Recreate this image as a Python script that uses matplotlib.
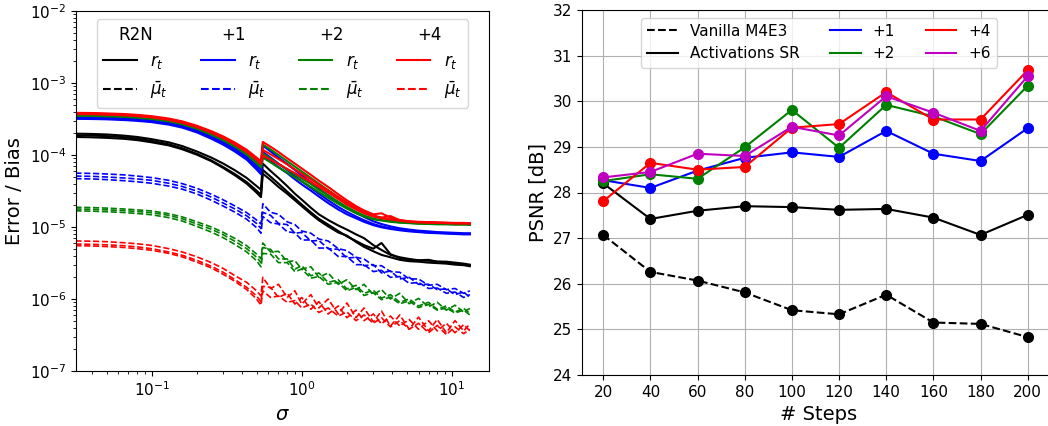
import numpy as np
import matplotlib.pyplot as plt
from matplotlib.lines import Line2D

# ---- left panel: error / bias vs sigma (values in units of 1e-6) ----
sigma = [0.031, 0.04, 0.05, 0.065, 0.08, 0.1, 0.13, 0.16, 0.2, 0.25,
         0.3, 0.36, 0.43, 0.5, 0.535, 0.55, 0.62, 0.7, 0.8, 0.9,
         1.0, 1.15, 1.3, 1.5, 1.75, 2.0, 2.3, 2.6, 3.0, 3.4,
         3.9, 4.5, 5.2, 6.0, 7.0, 8.0, 9.2, 10.5, 12.0, 13.2]
unit = 1e-6

r_base = [
    [198, 196, 193, 186, 178, 166, 150, 133, 112, 92, 76, 61, 48, 37, 33,
     76, 60, 48, 37, 29, 24, 18.5, 15, 12.5, 10.5, 9.2, 7.9, 7.0, 5.6, 4.8,
     4.1, 3.8, 3.6, 3.45, 3.4, 3.3, 3.3, 3.2, 3.1, 3.0],
    [188, 186, 183, 177, 169, 157, 141, 124, 104, 84, 68, 54, 42, 32, 28,
     62, 50, 40, 31, 25, 20.5, 16, 13, 10.8, 8.8, 7.4, 6.4, 5.6, 5.0, 6.0,
     4.2, 3.7, 3.5, 3.45, 3.5, 3.3, 3.25, 3.1, 3.0, 2.9],
    [178, 176, 173, 168, 161, 150, 136, 120, 101, 82, 66, 52, 40, 30, 26,
     55, 45, 36, 29, 23.5, 19.5, 15.2, 12.4, 10.2, 8.4, 7.6, 6.2, 5.3, 4.6, 4.1,
     3.8, 3.5, 3.35, 3.3, 3.2, 3.15, 3.1, 3.0, 2.95, 2.85],
]
r_p1 = [
    [335, 333, 330, 323, 315, 303, 281, 256, 222, 183, 152, 123, 96, 72, 63,
     135, 112, 92, 75, 62, 52, 42, 34, 27.5, 22, 18.5, 15.8, 13.8, 12, 11,
     10.2, 9.6, 9.2, 8.9, 8.7, 8.5, 8.4, 8.3, 8.2, 8.2],
    [325, 323, 320, 313, 305, 293, 271, 246, 212, 174, 144, 116, 90, 67, 58,
     110, 92, 76, 62, 51, 43, 35, 29, 23.5, 19, 16.2, 14, 12.4, 11, 10.2,
     9.6, 9.2, 8.9, 8.6, 8.4, 8.3, 8.2, 8.1, 8.0, 8.0],
    [318, 316, 313, 306, 298, 286, 264, 240, 206, 168, 139, 111, 86, 63, 54,
     98, 82, 68, 56, 46, 39, 32, 26.5, 21.5, 17.5, 15, 13.2, 11.8, 10.6, 9.9,
     9.4, 9.0, 8.7, 8.5, 8.3, 8.2, 8.1, 8.0, 7.9, 7.9],
]
r_p2 = [
    [372, 370, 366, 359, 350, 336, 312, 285, 248, 207, 174, 142, 112, 86, 76,
     140, 119, 100, 82, 69, 59, 48, 40, 32.5, 26, 21.5, 18, 15.8, 14, 13.5,
     12.6, 12, 11.7, 11.5, 11.4, 11.3, 11.2, 11.1, 11.1, 11.0],
    [360, 358, 354, 347, 338, 324, 300, 274, 237, 197, 165, 134, 105, 80, 70,
     105, 89, 75, 63, 54, 47, 39.5, 33, 27.5, 22.5, 19, 16.2, 14.5, 13, 12.5,
     12, 11.6, 11.4, 11.2, 11.1, 11, 11, 10.9, 10.9, 10.8],
    [350, 348, 344, 338, 329, 316, 293, 267, 231, 191, 160, 130, 101, 77, 67,
     92, 79, 67, 57, 49, 43, 36, 30.5, 25.5, 21, 18, 15.5, 14, 12.8, 12.3,
     11.8, 11.5, 11.3, 11.1, 11, 10.9, 10.9, 10.8, 10.8, 10.7],
]
r_p4 = [
    [385, 383, 378, 371, 361, 346, 321, 293, 255, 214, 181, 148, 118, 92, 82,
     152, 130, 110, 90, 76, 65, 53, 44, 36, 28.5, 23.5, 19.5, 17, 15, 15.5,
     13.5, 12.5, 12, 11.8, 11.7, 11.6, 11.5, 11.4, 11.4, 11.3],
    [378, 376, 371, 364, 354, 339, 314, 286, 248, 208, 175, 143, 113, 88, 78,
     118, 102, 88, 74, 63, 55, 46, 38.5, 32, 26, 22, 18.5, 16.2, 14.5, 13.5,
     14.2, 12.4, 11.9, 11.7, 11.6, 11.5, 11.4, 11.3, 11.3, 11.2],
    [370, 368, 363, 356, 346, 332, 307, 280, 243, 203, 171, 139, 110, 85, 75,
     98, 86, 75, 64, 56, 49.5, 42, 36, 30, 24.5, 20.5, 17.5, 15.5, 14, 13.2,
     12.7, 12.2, 11.8, 11.6, 11.5, 11.4, 11.3, 11.2, 11.2, 11.1],
]
mu_p1 = [
    [56, 55.5, 54.5, 53, 51, 48.5, 44.5, 40, 34.5, 28.5, 23.8, 19.5, 15.8, 12.5, 11,
     21, 16, 15, 11.8, 10.8, 8.8, 8.2, 6.8, 6.4, 5.0, 4.7, 3.8, 3.6, 2.9, 2.9,
     2.4, 2.35, 1.9, 1.9, 1.55, 1.6, 1.35, 1.4, 1.2, 1.3],
    [51, 50.5, 49.5, 48, 46.5, 44.5, 40.5, 36.5, 31.5, 26, 21.5, 17.7, 14.3, 11.2, 9.5,
     16, 14.5, 11.2, 10.8, 8.2, 8.4, 6.4, 6.5, 5.0, 4.9, 3.7, 3.8, 2.9, 3.0, 2.3,
     2.45, 1.9, 2.0, 1.6, 1.6, 1.35, 1.38, 1.15, 1.25, 1.05],
    [47, 46.5, 45.5, 44, 42.5, 40.5, 37, 33.5, 28.8, 23.5, 19.5, 16, 12.8, 9.8, 8.2,
     14, 11.5, 11.0, 8.6, 8.3, 6.6, 6.6, 5.1, 5.1, 3.9, 3.9, 3.0, 3.0, 2.4, 2.5,
     2.0, 2.05, 1.65, 1.7, 1.4, 1.42, 1.2, 1.25, 1.05, 1.15],
]
mu_p2 = [
    [18.8, 18.6, 18.3, 17.8, 17.3, 16.7, 15.3, 13.8, 11.8, 10.0, 8.4, 6.9, 5.5, 4.2, 3.6,
     6.0, 4.5, 4.6, 3.3, 3.4, 2.6, 2.8, 2.0, 2.3, 1.6, 1.85, 1.35, 1.6, 1.15, 1.35,
     1.0, 1.2, 0.86, 1.02, 0.78, 0.9, 0.7, 0.82, 0.66, 0.74],
    [17.8, 17.6, 17.3, 16.9, 16.4, 15.8, 14.5, 13, 11, 9.3, 7.8, 6.3, 5.0, 3.8, 3.2,
     5.2, 4.9, 3.6, 3.6, 2.6, 2.9, 2.1, 2.3, 1.7, 1.85, 1.38, 1.55, 1.2, 1.32, 1.03,
     1.15, 0.9, 1.0, 0.8, 0.9, 0.72, 0.8, 0.66, 0.74, 0.63],
    [16.8, 16.6, 16.3, 15.9, 15.4, 14.8, 13.5, 12.1, 10.2, 8.5, 7.1, 5.7, 4.5, 3.4, 2.8,
     4.3, 4.2, 3.2, 3.2, 2.4, 2.6, 1.95, 2.05, 1.6, 1.7, 1.3, 1.45, 1.12, 1.22, 0.98,
     1.06, 0.86, 0.94, 0.76, 0.84, 0.7, 0.75, 0.64, 0.7, 0.6],
]
mu_p4 = [
    [6.4, 6.35, 6.25, 6.05, 5.85, 5.55, 5.0, 4.5, 3.85, 3.2, 2.65, 2.1, 1.7, 1.3, 1.1,
     2.0, 1.4, 1.6, 1.05, 1.3, 0.85, 1.15, 0.75, 1.0, 0.62, 0.88, 0.55, 0.75, 0.48, 0.68,
     0.42, 0.6, 0.38, 0.56, 0.36, 0.52, 0.34, 0.5, 0.36, 0.45],
    [5.8, 5.75, 5.65, 5.5, 5.3, 5.0, 4.5, 4.05, 3.45, 2.85, 2.35, 1.85, 1.45, 1.1, 0.92,
     1.5, 1.45, 1.05, 1.2, 0.85, 1.05, 0.72, 0.92, 0.62, 0.8, 0.55, 0.7, 0.5, 0.62, 0.45,
     0.58, 0.42, 0.52, 0.38, 0.5, 0.36, 0.46, 0.34, 0.44, 0.36],
    [5.5, 5.45, 5.35, 5.2, 5.0, 4.75, 4.3, 3.85, 3.25, 2.7, 2.2, 1.75, 1.35, 1.0, 0.82,
     1.3, 1.05, 1.1, 0.9, 0.95, 0.75, 0.85, 0.65, 0.75, 0.58, 0.66, 0.5, 0.6, 0.46, 0.55,
     0.41, 0.5, 0.38, 0.46, 0.34, 0.43, 0.32, 0.41, 0.33, 0.38],
]
legend_heads = ['R2N', '+1', '+2', '+4']

# ---- right panel: PSNR vs number of steps ----
steps = [20, 40, 60, 80, 100, 120, 140, 160, 180, 200]
psnr_vanilla = [27.07, 26.26, 26.07, 25.81, 25.42, 25.33, 25.76, 25.15, 25.12, 24.83]
psnr_act = [28.2, 27.42, 27.6, 27.7, 27.68, 27.62, 27.64, 27.45, 27.07, 27.51]
psnr_p1 = [28.27, 28.1, 28.48, 28.76, 28.88, 28.78, 29.35, 28.85, 28.69, 29.41]
psnr_p2 = [28.25, 28.4, 28.3, 28.99, 29.81, 28.98, 29.92, 29.67, 29.28, 30.34]
psnr_p4 = [27.81, 28.65, 28.5, 28.56, 29.42, 29.5, 30.2, 29.6, 29.6, 30.68]
psnr_p6 = [28.33, 28.45, 28.85, 28.8, 29.44, 29.25, 30.11, 29.75, 29.35, 30.55]
psnr_names = ['Vanilla M4E3', 'Activations SR', '+1', '+2', '+4', '+6']


def plot_error(ax):
    x = np.array(sigma)
    groups = [('k', r_base, None), ('b', r_p1, mu_p1), ('g', r_p2, mu_p2), ('r', r_p4, mu_p4)]
    for color, runs, _ in groups:
        for run in runs:
            ax.plot(x, np.array(run) * unit, color=color, lw=1.5)
    for color, _, runs in groups:
        if runs is None:
            continue
        for run in runs:
            ax.plot(x, np.array(run) * unit, color=color, lw=1.2, ls='--')

    ax.set_xscale('log')
    ax.set_yscale('log')
    ax.set_xlim(0.0313, 17.7)
    ax.set_ylim(1e-7, 1e-2)
    ax.set_xlabel(r'$\sigma$', fontsize=14)
    ax.set_ylabel('Error / Bias', fontsize=14)
    ax.tick_params(labelsize=11)

    handles, labels = [], []
    for color in ['k', 'b', 'g', 'r']:
        handles += [Line2D([], [], ls='none'),
                    Line2D([], [], color=color, lw=1.5),
                    Line2D([], [], color=color, lw=1.5, ls='--')]
        labels += [' ', r'$r_t$', r'$\bar{\mu}_t$']
    leg = ax.legend(handles, labels, ncol=4, loc='upper center', fontsize=12)
    return leg


def add_legend_heads(fig, leg):
    # column headers centred over each legend column
    fig.canvas.draw()
    renderer = fig.canvas.get_renderer()
    texts = leg.get_texts()
    lines = leg.legend_handles
    W, H = fig.bbox.width, fig.bbox.height
    for k, name in enumerate(legend_heads):
        head = texts[3 * k].get_window_extent(renderer)
        x0 = lines[3 * k + 1].get_window_extent(renderer).x0
        x1 = texts[3 * k + 2].get_window_extent(renderer).x1
        fig.text((x0 + x1) / 2 / W, (head.y0 + head.y1) / 2 / H, name,
                 fontsize=12, ha='center', va='center')


def plot_psnr(ax):
    ax.grid(True, color='#b0b0b0', lw=0.8)
    ax.set_axisbelow(True)
    series = [(psnr_vanilla, 'k', '--'), (psnr_act, 'k', '-'), (psnr_p1, 'b', '-'),
              (psnr_p2, 'g', '-'), (psnr_p4, 'r', '-'), (psnr_p6, 'm', '-')]
    for vals, color, ls in series:
        ax.plot(steps, vals, color=color, ls=ls, lw=1.5, marker='o', ms=7)

    ax.set_xlim(11, 212)
    ax.set_ylim(24, 32)
    ax.set_xticks(steps)
    ax.set_xlabel('# Steps', fontsize=14)
    ax.set_ylabel('PSNR [dB]', fontsize=14)
    ax.tick_params(labelsize=11)

    handles = [Line2D([], [], color=c, ls=ls, lw=1.5) for _, c, ls in series]
    ax.legend(handles, psnr_names, ncol=3, loc='upper center', fontsize=11)


def _main():
    fig = plt.figure(figsize=(10.48, 4.26), dpi=100)
    ax1 = fig.add_axes([76 / 1048, 1 - 371 / 426, 413 / 1048, 360 / 426])
    ax2 = fig.add_axes([582 / 1048, 1 - 375 / 426, 474 / 1048, 365 / 426])
    leg = plot_error(ax1)
    plot_psnr(ax2)
    add_legend_heads(fig, leg)
    fig.savefig('out.png', dpi=100)


if __name__ == '__main__':
    _main()
